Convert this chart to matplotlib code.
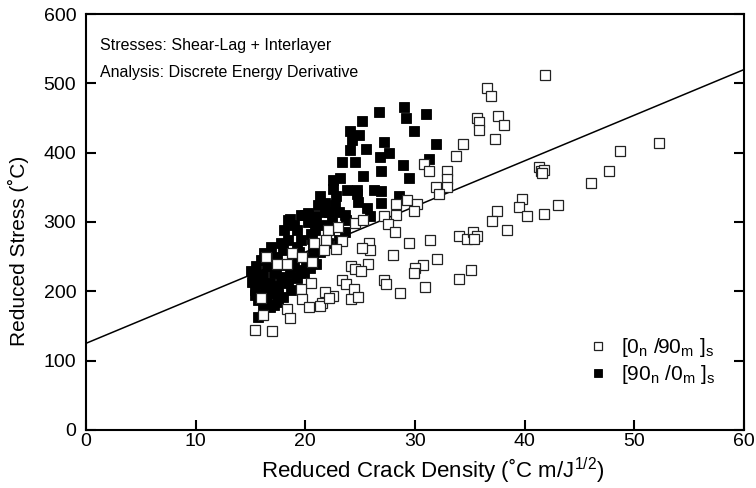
import matplotlib
matplotlib.use("Agg")
import matplotlib.pyplot as plt
import numpy as np

plt.rcParams['font.family'] = ['Liberation Sans', 'DejaVu Sans']
plt.rcParams['mathtext.fontset'] = 'custom'
plt.rcParams['mathtext.rm'] = 'Liberation Sans'
plt.rcParams['mathtext.it'] = 'Liberation Sans:italic'

# [0n/90m]s laminates (open squares)
open_x = [41.9, 36.6, 36.9, 35.7, 35.8, 35.8, 37.6, 38.1, 37.3, 34.4, 33.7, 30.8,
          31.3, 32.9, 32.9, 32.9, 31.9, 32.2, 41.3, 41.5, 41.8, 41.6, 39.8, 29.3,
          30.2, 29.9, 28.3, 28.3, 27.2, 27.5, 28.2, 24.5, 25.3, 23.0, 22.1, 23.3,
          22.8, 25.8, 25.9, 25.2, 29.5, 31.4, 28.0, 25.7, 24.2, 24.5, 25.1, 30.7,
          30.0, 29.9, 32.0, 23.3, 23.7, 24.4, 24.2, 24.8, 27.2, 27.4, 28.6, 30.9,
          22.5, 37.5, 37.0, 38.4, 39.5, 40.2, 41.8, 43.0, 34.0, 34.7, 35.3, 35.7,
          35.4, 35.1, 34.0, 52.3, 48.7, 47.7, 46.1, 20.8, 21.9, 21.7, 18.8, 19.7,
          16.4, 17.4, 18.3, 20.5, 19.6, 19.7, 20.3, 21.8, 21.5, 21.3, 22.2, 16.0,
          18.3, 18.6, 16.1, 15.4, 17.0, 20.6]
open_y = [512, 493, 482, 450, 444, 432, 453, 440, 420, 413, 395, 383,
          374, 373, 362, 350, 350, 340, 380, 374, 375, 370, 333, 332,
          326, 316, 326, 310, 309, 297, 286, 298, 303, 293, 288, 272,
          261, 270, 259, 262, 269, 274, 252, 240, 237, 232, 230, 238,
          233, 226, 246, 217, 211, 203, 189, 192, 217, 211, 197, 206,
          193, 316, 301, 288, 322, 309, 311, 324, 280, 275, 285, 280,
          275, 231, 218, 414, 402, 374, 356, 270, 274, 259, 255, 249,
          250, 240, 240, 212, 203, 189, 177, 199, 183, 179, 191, 190,
          175, 161, 166, 144, 143, 243]

# [90n/0m]s laminates (filled squares)
fill_x = [29.0, 26.7, 31.0, 29.2, 25.2, 24.1, 24.9, 29.9, 24.3, 27.2, 31.9, 24.1,
          25.5, 26.8, 27.6, 31.3, 23.3, 24.5, 28.9, 26.9, 25.3, 29.5, 23.2, 22.5,
          22.5, 23.8, 24.7, 26.3, 26.9, 28.5, 21.3, 21.8, 22.8, 24.8, 25.6, 26.9,
          20.0, 21.0, 22.2, 23.1, 23.6, 18.6, 25.9, 24.7, 21.2, 22.7, 21.8, 20.2,
          19.6, 18.4, 20.2, 19.2, 20.9, 22.2, 23.6, 23.7, 18.1, 18.4, 19.6, 20.6,
          19.2, 20.7, 22.1, 23.1, 16.9, 18.0, 17.4, 16.0, 15.5, 16.5, 17.7, 19.0,
          20.1, 20.7, 21.3, 15.2, 16.1, 17.1, 17.8, 18.6, 19.5, 20.4, 21.0, 15.1,
          16.0, 16.8, 17.5, 18.4, 19.2, 19.9, 15.4, 16.3, 17.1, 18.0, 18.7, 17.5,
          15.7, 16.5, 16.8, 16.1, 15.7, 17.1, 15.0, 15.6, 16.6, 17.3, 18.9, 19.4,
          20.5, 21.5, 22.4, 16.2, 17.8, 19.0, 15.4, 17.5, 20.8]
fill_y = [466, 459, 456, 450, 446, 431, 426, 431, 418, 415, 413, 404,
          405, 394, 399, 391, 387, 387, 382, 374, 367, 364, 364, 360,
          348, 346, 346, 346, 345, 338, 337, 327, 337, 329, 320, 327,
          310, 308, 315, 315, 310, 305, 308, 341, 325, 325, 315, 313,
          310, 303, 300, 288, 288, 288, 286, 303, 288, 274, 274, 276,
          264, 264, 269, 274, 264, 260, 250, 245, 236, 236, 238, 243,
          245, 250, 257, 226, 224, 226, 221, 226, 231, 233, 240, 214,
          212, 212, 207, 212, 219, 226, 202, 199, 197, 192, 202, 185,
          188, 185, 178, 173, 163, 180, 230, 220, 205, 232, 237, 256,
          282, 296, 300, 255, 270, 296, 195, 195, 300]

# fitted line
fit_intercept = 125
fit_slope = 6.58

fig = plt.figure(figsize=(7.56, 4.88), dpi=100)
ax = fig.add_axes([0.1138, 0.1189, 0.8702, 0.8524])

xl = np.array([0, 60])
ax.plot(xl, fit_intercept + fit_slope * xl, color='black', lw=1.1, zorder=1)

ax.plot(fill_x, fill_y, 's', ms=7.2, mfc='black', mec='black', mew=0.6,
        ls='none', zorder=2, label=r'[90$_\mathrm{n}$ /0$_\mathrm{m}$ ]$_\mathrm{s}$')
ax.plot(open_x, open_y, 's', ms=7.2, mfc='white', mec='#222222', mew=0.9,
        ls='none', zorder=3, label=r'[0$_\mathrm{n}$ /90$_\mathrm{m}$ ]$_\mathrm{s}$')

ax.set_xlim(0, 60)
ax.set_ylim(0, 600)
ax.set_xticks(range(0, 61, 10))
ax.set_yticks(range(0, 601, 100))
ax.tick_params(direction='in', length=7, width=1.5, labelsize=14,
               top=False, right=True)
ax.tick_params(axis='x', pad=2)
ax.tick_params(axis='y', pad=7)
for sp in ax.spines.values():
    sp.set_linewidth(1.5)

ax.set_xlabel(r'Reduced Crack Density (˚C m/J$^{\mathrm{1/2}}$)', fontsize=16)
ax.set_ylabel('Reduced Stress (˚C)', fontsize=15)
ax.xaxis.set_label_coords(0.527, -0.062)
ax.yaxis.set_label_coords(-0.086, 0.43)

ax.text(1.3, 555, 'Stresses: Shear-Lag + Interlayer', fontsize=11.5, va='center')
ax.text(1.3, 516, 'Analysis: Discrete Energy Derivative', fontsize=11.5, va='center')

h, l = ax.get_legend_handles_labels()
leg = ax.legend(h[::-1], l[::-1], loc='upper left', bbox_to_anchor=(0.766, 0.226),
                frameon=False, fontsize=15, handlelength=0.75, handletextpad=0.75,
                markerscale=0.85, labelspacing=0.2, borderpad=0, borderaxespad=0)

fig.savefig('out.png', dpi=100)
